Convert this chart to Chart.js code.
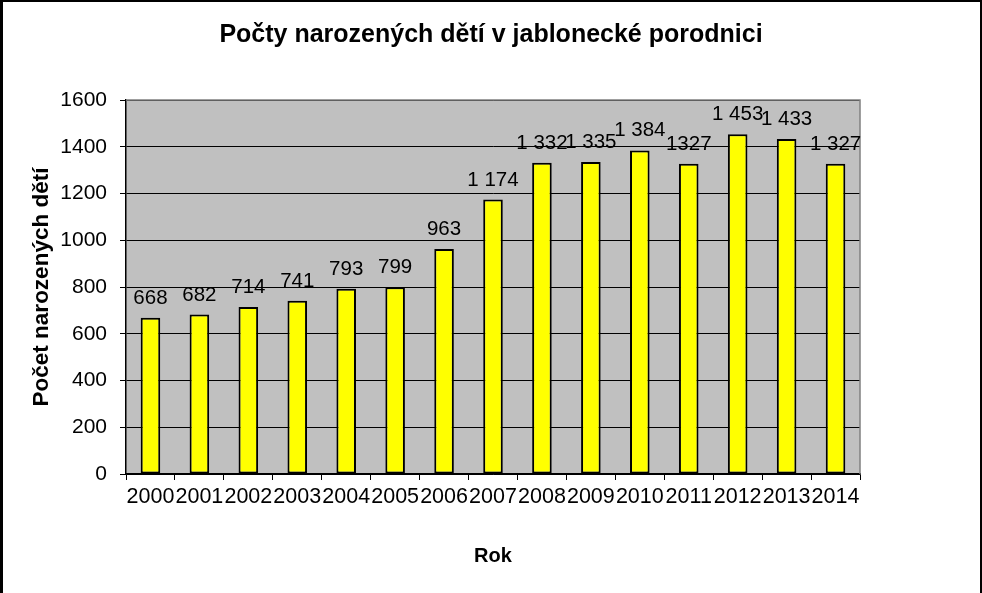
<!DOCTYPE html>
<html>
<head>
<meta charset="utf-8">
<script src="https://cdn.jsdelivr.net/npm/chart.js@4/dist/chart.umd.min.js"></script>
<style>
  html, body { margin: 0; padding: 0; background: #fff; }
  #wrap { width: 982px; height: 593px; position: relative; }
</style>
</head>
<body>
<div id="wrap"><canvas id="chart"></canvas></div>
<script>
// data
const years = ['2000', '2001', '2002', '2003', '2004', '2005', '2006', '2007',
               '2008', '2009', '2010', '2011', '2012', '2013', '2014'];
const births = [668, 682, 714, 741, 793, 799, 963, 1174,
                1332, 1335, 1384, 1327, 1453, 1433, 1327];
// value labels exactly as printed above the bars
const valueLabels = ['668', '682', '714', '741', '793', '799', '963', '1 174',
                     '1 332', '1 335', '1 384', '1327', '1 453', '1 433', '1 327'];
const yTicks = [0, 200, 400, 600, 800, 1000, 1200, 1400, 1600];

const FONT = "'Liberation Sans', Arial, sans-serif";

// grey plot area, frame and value labels
const excelLook = {
    id: 'excelLook',
    afterLayout(chart) {
        // center the title on the whole canvas, not only left of the right margin
        const t = chart.titleBlock;
        if (t) {
            t.left = 0;
            t.right = chart.width;
            t.width = chart.width;
        }
    },
    beforeDraw(chart) {
        const { ctx, chartArea: a } = chart;
        ctx.save();
        ctx.fillStyle = '#c0c0c0';
        ctx.fillRect(a.left, a.top, a.right - a.left, a.bottom - a.top);
        ctx.restore();
    },
    afterDatasetsDraw(chart) {
        const { ctx, chartArea: a } = chart;
        ctx.save();
        // top and right edge of plot area
        ctx.strokeStyle = '#808080';
        ctx.lineWidth = 1.5;
        ctx.beginPath();
        ctx.moveTo(a.left, a.top);
        ctx.lineTo(a.right, a.top);
        ctx.lineTo(a.right, a.bottom);
        ctx.stroke();

        // labels above bars
        ctx.fillStyle = '#000';
        ctx.font = '20.5px ' + FONT;
        ctx.textAlign = 'center';
        ctx.textBaseline = 'alphabetic';
        chart.getDatasetMeta(0).data.forEach((bar, i) => {
            ctx.fillText(valueLabels[i], bar.x, bar.y - 14);
        });

        // outer frame
        ctx.fillStyle = '#000';
        ctx.fillRect(0, 0, 3, chart.height);
        ctx.fillRect(0, 0, chart.width, 2);
        ctx.fillRect(chart.width - 2, 0, 2, chart.height);
        ctx.restore();
    }
};

const ctx = document.getElementById('chart').getContext('2d');
const birthsChart = new Chart(ctx, {
    type: 'bar',
    data: {
        labels: years,
        datasets: [{
            label: 'Počet narozených dětí',
            data: births,
            backgroundColor: '#ffff00',
            borderColor: '#000000',
            borderWidth: 2,
            borderSkipped: false,
            categoryPercentage: 1.0,
            barPercentage: 0.4
        }]
    },
    options: {
        responsive: true,
        maintainAspectRatio: false,
        animation: false,
        layout: { padding: { top: 0, left: 0, right: 122, bottom: 0 } },
        plugins: {
            legend: { display: false },
            tooltip: { enabled: false },
            title: {
                display: true,
                text: 'Počty narozených dětí v jablonecké porodnici',
                color: '#000',
                font: { family: FONT, size: 25, weight: 'bold' },
                padding: { top: 20, bottom: 50 }
            }
        },
        scales: {
            x: {
                offset: true,
                grid: {
                    offset: true,
                    drawOnChartArea: false,
                    drawTicks: true,
                    tickLength: 6,
                    tickColor: '#000'
                },
                border: { color: '#000', width: 1.5 },
                ticks: {
                    color: '#000',
                    font: { family: FONT, size: 21.5 },
                    padding: 4,
                    maxRotation: 0,
                    autoSkip: false
                },
                title: {
                    display: true,
                    text: 'Rok',
                    color: '#000',
                    font: { family: FONT, size: 20, weight: 'bold' },
                    padding: { top: 0, bottom: 25 }
                },
                afterFit(scale) { scale.height = 119; }
            },
            y: {
                min: 0,
                max: 1600,
                afterBuildTicks(scale) {
                    scale.ticks = yTicks.map(v => ({ value: v }));
                },
                grid: {
                    color: '#000',
                    lineWidth: 1,
                    drawTicks: true,
                    tickLength: 6,
                    tickColor: '#000'
                },
                border: { color: '#000', width: 1.5 },
                ticks: {
                    color: '#000',
                    font: { family: FONT, size: 21 },
                    padding: 13,
                    callback: v => String(v)
                },
                title: {
                    display: true,
                    text: 'Počet narozených dětí',
                    color: '#000',
                    font: { family: FONT, size: 22.5, weight: 'bold' },
                    padding: { top: 28, bottom: 0 }
                },
                afterFit(scale) { scale.width = 126; }
            }
        }
    },
    plugins: [excelLook]
});
</script>
</body>
</html>
